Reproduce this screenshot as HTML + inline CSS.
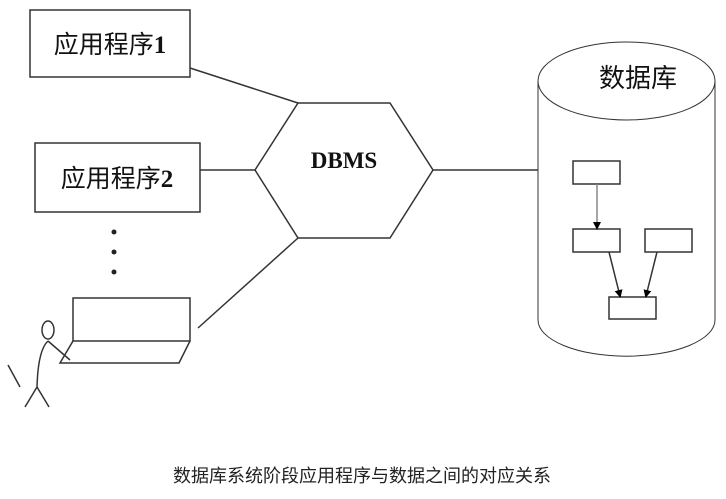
<!DOCTYPE html>
<html><head><meta charset="utf-8"><style>
html,body{margin:0;padding:0;background:#fff;width:726px;height:499px;overflow:hidden}
svg text{font-family:"Liberation Serif","Noto Sans CJK SC",serif}
</style></head><body>
<svg width="726" height="499" viewBox="0 0 726 499" xmlns="http://www.w3.org/2000/svg">
<defs><marker id="a" markerWidth="8" markerHeight="8" refX="6" refY="4" orient="auto" markerUnits="userSpaceOnUse"><path d="M0,0 L8,4 L0,8 z" fill="#000"/></marker></defs>
<g stroke="#333" stroke-width="1.5" fill="none">
<rect x="30" y="10" width="160" height="67" fill="#fff"/>
<rect x="35" y="143" width="165" height="69" fill="#fff"/>
<line x1="190" y1="68" x2="298" y2="103"/>
<line x1="200" y1="170" x2="255" y2="170"/>
<line x1="433" y1="170" x2="538" y2="170"/>
<line x1="198" y1="328" x2="298" y2="238"/>
<polygon points="255,170 298,103 390,103 433,170 390,238 298,238" fill="#fff"/>
<path d="M538,81 L538,320 A88,36 0 0 0 715,320 L715,81" stroke-width="1"/>
<ellipse cx="626.5" cy="81" rx="88.5" ry="39" stroke-width="1"/>
<rect x="573" y="161" width="47" height="23"/>
<rect x="573" y="229" width="47" height="23"/>
<rect x="645" y="229" width="47" height="23"/>
<rect x="609" y="297" width="47" height="22"/>
<line x1="597" y1="184" x2="597" y2="228" stroke="#888" marker-end="url(#a)"/>
<line x1="609" y1="252" x2="620" y2="296" marker-end="url(#a)"/>
<line x1="657" y1="252" x2="646" y2="296" marker-end="url(#a)"/>
<rect x="73" y="298" width="117" height="43"/>
<path d="M73,341 L60,363 L179,363 L190,341"/>
<ellipse cx="48" cy="330" rx="6" ry="9"/>
<path d="M48,341 Q38,350 37,387 M37,387 L25,407 M37,387 L49,407 M48,341 L70,360 M8,365 L20,387"/>
</g>
<g fill="#222">
<circle cx="114" cy="232" r="2.5"/><circle cx="114" cy="252" r="2.5"/><circle cx="114" cy="272" r="2.5"/>
</g>
<text x="110" y="53" font-size="25" text-anchor="middle" fill="#111">应用程序<tspan font-weight="bold">1</tspan></text>
<text x="117" y="187" font-size="25" text-anchor="middle" fill="#111">应用程序<tspan font-weight="bold">2</tspan></text>
<text x="344" y="168" font-size="23" font-weight="bold" text-anchor="middle" fill="#111">DBMS</text>
<text x="638" y="87" font-size="26" text-anchor="middle" fill="#111">数据库</text>
<text x="362" y="482" font-size="18" text-anchor="middle" fill="#222">数据库系统阶段应用程序与数据之间的对应关系</text>
</svg>
</body></html>
